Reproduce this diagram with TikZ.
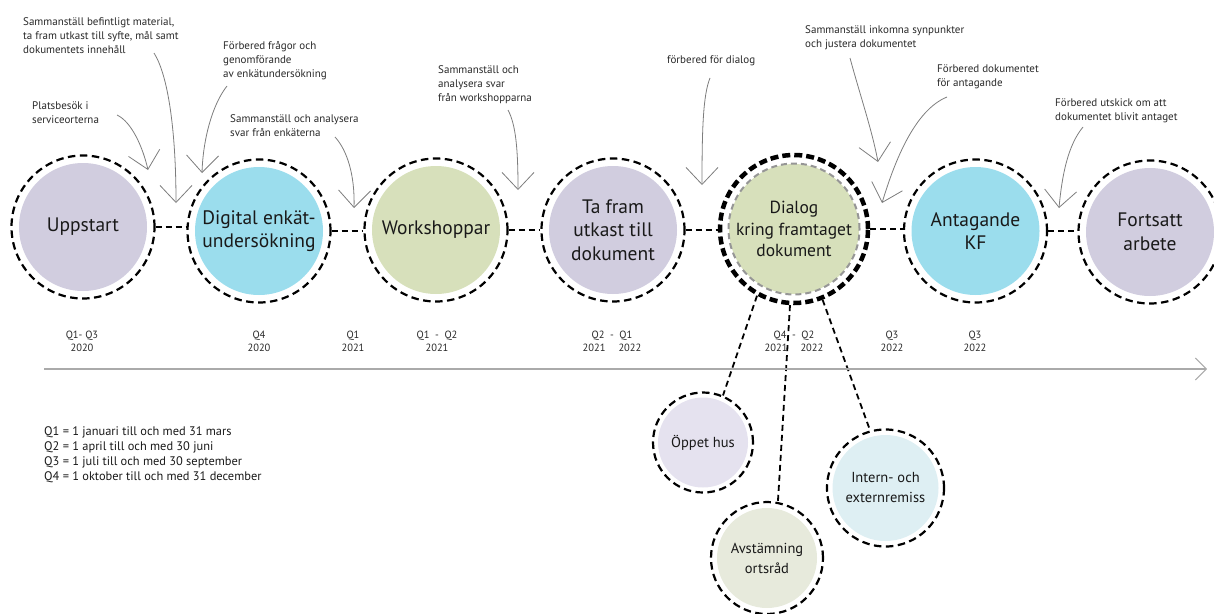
\documentclass[tikz,border=0pt]{standalone}
\usepackage{fontspec}
\setmainfont{PT Sans}
\usetikzlibrary{arrows.meta}
\definecolor{lav}{RGB}{209,205,223}
\definecolor{cya}{RGB}{155,221,237}
\definecolor{grn}{RGB}{215,224,187}
\definecolor{lavl}{RGB}{229,226,239}
\definecolor{grnl}{RGB}{231,234,220}
\definecolor{cyal}{RGB}{222,239,243}
\definecolor{txt}{RGB}{25,25,25}
\definecolor{notec}{RGB}{40,40,40}
\definecolor{leadc}{RGB}{125,125,125}
\definecolor{axc}{RGB}{170,170,170}
\definecolor{ringg}{RGB}{150,150,150}
\begin{document}
\begin{tikzpicture}[x=1pt,y=-1pt,
  ring/.style={draw=black, line width=2.2pt, dash pattern=on 7.5pt off 4.5pt},
  stage/.style n args={3}{circle, inner sep=0pt, minimum size=#1*2pt, align=center,
    text=txt, ring,
    path picture={\fill[#3] (path picture bounding box.center) circle[radius=#2pt];}},
  mainlbl/.style={font=\fontsize{19.5}{23.5}\selectfont},
  sublbl/.style={font=\fontsize{14.5}{20}\selectfont},
  note/.style={anchor=north west, inner sep=0pt, align=left, text=notec,
    font=\fontsize{11}{14}\selectfont},
  lead/.style={draw=leadc, line width=0.8pt, -{Straight Barb[length=17pt,width=32pt,line width=0.8pt]}},
  qlbl/.style={align=center, inner sep=0pt, text=notec, font=\fontsize{10.5}{13.5}\selectfont},
  link/.style={draw=black, line width=2.2pt, dash pattern=on 6pt off 4pt},
  sublink/.style={draw=black, line width=1.8pt, dash pattern=on 6pt off 4pt},
  axis/.style={draw=axc, line width=1.5pt, -{Straight Barb[length=11pt,width=22pt,line width=1pt]}}
]
\useasboundingbox (0,0) rectangle (1214,613);

% main stages
\node[stage={71.5}{64}{lav}, mainlbl] (u) at (83,227) {Uppstart};
\node[stage={71.5}{64}{cya}, mainlbl] (d) at (259,231) {Digital enkät-\\undersökning};
\node[stage={71.5}{64}{grn}, mainlbl] (w) at (436,230) {Workshoppar};
\node[stage={71.5}{64}{lav}, mainlbl] (t) at (613,230) {Ta fram\\utkast till\\dokument};
\node[circle, inner sep=0pt, minimum size=148pt, align=center, text=txt,
  draw=black, line width=4.5pt, dash pattern=on 8pt off 4pt,
  path picture={\fill[grn] (path picture bounding box.center) circle[radius=65pt];
    \draw[ringg, line width=2pt, dash pattern=on 6pt off 4pt] (path picture bounding box.center) circle[radius=65.5pt];},
  font=\fontsize{17.5}{21.5}\selectfont] (g) at (794,229) {Dialog\\kring framtaget\\dokument};
\node[stage={71.5}{64}{cya}, mainlbl] (a) at (975.5,231) {Antagande\\KF};
\node[stage={71.5}{64}{lav}, mainlbl] (f) at (1150,232) {Fortsatt\\arbete};

% links between stages
\draw[link] (u.east) -- (u.east -| d.west);
\draw[link] (d.east) -- (d.east -| w.west);
\draw[link] (w.east) -- (w.east -| t.west);
\draw[link] (t.east) -- (t.east -| g.west);
\draw[link] (g.east) -- (g.east -| a.west);
\draw[link] (a.east) -- (a.east -| f.west);

% sub stages
\node[stage={50}{45}{lavl}, sublbl] (o) at (703,442.5) {Öppet hus};
\node[stage={56}{50}{grnl}, sublbl] (s) at (767,558) {Avstämning\\ortsråd};
\node[stage={58.5}{53}{cyal}, sublbl] (r) at (885.5,488) {Intern- och\\externremiss};
\draw[sublink] (g.-119) -- (o.67);
\draw[sublink] (g.-93) -- (s.79);
\draw[sublink] (g.-68) -- (r.105);

% axis
\coordinate (ax0) at (44,369);
\coordinate (ax1) at (1207,369);
\draw[axis] (ax0) -- (ax1);

% quarter labels
\node[qlbl] (q1) at (82,341.5) {Q1- Q3\\2020};
\node[qlbl] (q2) at (259,341.5) {Q4\\2020};
\node[qlbl] (q3) at (353,341.5) {Q1\\2021};
\node[qlbl] (q4) at (437,341.5) {Q1 ~-~ Q2\\2021};
\node[qlbl] (q5) at (612,341.5) {Q2 ~-~ Q1\\2021\hspace{13pt}2022};
\node[qlbl] (q6) at (794,341.5) {Q4 ~-~ Q2\\2021\hspace{13pt}2022};
\node[qlbl] (q7) at (892,341.5) {Q3\\2022};
\node[qlbl] (q8) at (975,341.5) {Q3\\2022};

% legend
\node[anchor=north west, inner sep=0pt, align=left, text=txt,
  font=\fontsize{12.4}{15.3}\selectfont] (lg) at (44,426)
  {Q1 = 1 januari till och med 31 mars\\
   Q2 = 1 april till och med 30 juni\\
   Q3 = 1 juli till och med 30 september\\
   Q4 = 1 oktober till och med 31 december};

% annotations
\node[note] (n1) at (32,102) {Platsbesök i\\serviceorterna};
\node[note] (n2) at (23,17) {Sammanställ befintligt material,\\ta fram utkast till syfte, mål samt\\dokumentets innehåll};
\node[note] (n3) at (223,41) {Förbered frågor och\\genomförande\\av enkätundersökning};
\node[note] (n4) at (230,114) {Sammanställ och analysera\\svar från enkäterna};
\node[note] (n5) at (438,65) {Sammanställ och\\analysera svar\\från workshopparna};
\node[note] (n6) at (667,56) {förbered för dialog};
\node[note] (n7) at (805,25) {Sammanställ inkomna synpunkter\\och justera dokumentet};
\node[note] (n8) at (937,65) {Förbered dokumentet\\för antagande};
\node[note] (n9) at (1055,99) {Förbered utskick om att\\dokumentet blivit antaget};

\coordinate (s1) at (117,115);  \coordinate (e1) at (148,170);
\coordinate (s2) at (154,53);   \coordinate (e2) at (176,203);
\coordinate (s3) at (227,86);   \coordinate (e3) at (202,173);
\coordinate (s4) at (335,137);  \coordinate (e4) at (354,208);
\coordinate (s5) at (508,110);  \coordinate (e5) at (518,190);
\coordinate (s6) at (710,78);   \coordinate (e6) at (702,185);
\coordinate (s7) at (850,58);   \coordinate (e7) at (878,162);
\coordinate (s8) at (947,97);   \coordinate (e8) at (882,203);
\coordinate (s9) at (1083,127); \coordinate (e9) at (1059,208);

\draw[lead] (s1) .. controls (132,122) and (143,148) .. (e1);
\draw[lead] (s2) .. controls (168,75) and (176,130) .. (e2);
\draw[lead] (s3) .. controls (212,105) and (203,140) .. (e3);
\draw[lead] (s4) .. controls (347,150) and (355,175) .. (e4);
\draw[lead] (s5) .. controls (516,125) and (518,150) .. (e5);
\draw[lead] (s6) .. controls (703,95) and (702,130) .. (e6);
\draw[lead] (s7) .. controls (860,95) and (872,130) .. (e7);
\draw[lead] (s8) .. controls (915,110) and (895,160) .. (e8);
\draw[lead] (s9) .. controls (1068,145) and (1062,175) .. (e9);
\end{tikzpicture}
\end{document}
